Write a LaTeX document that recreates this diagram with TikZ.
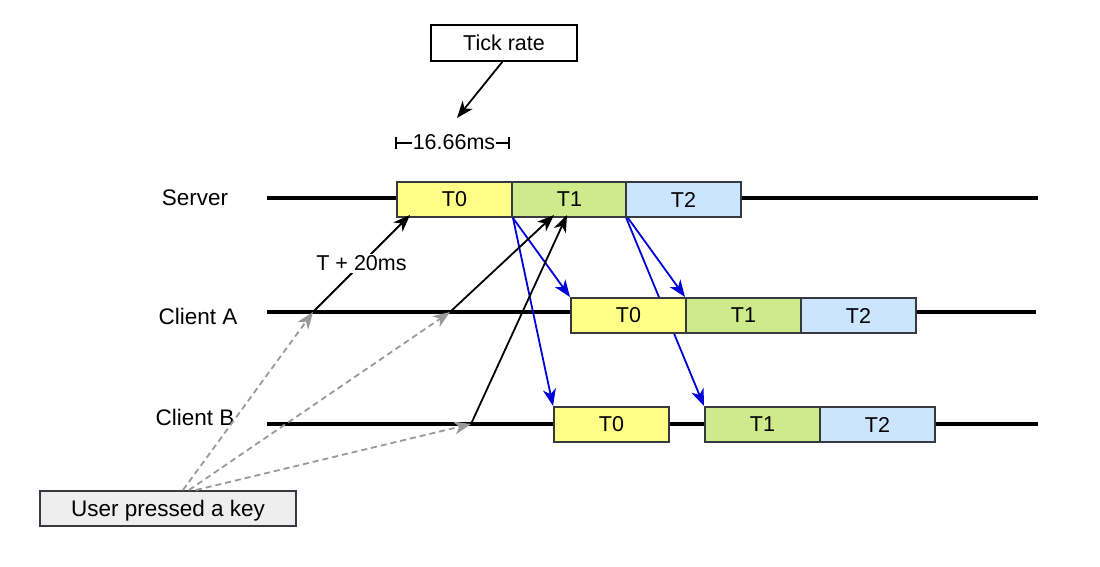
\documentclass[tikz,border=0pt]{standalone}
\usepackage{fontspec}
\setmainfont{Liberation Sans}
\usetikzlibrary{arrows.meta}
\definecolor{ty}{HTML}{FFFF88}
\definecolor{tg}{HTML}{CDEB8B}
\definecolor{tb}{HTML}{CCE5FF}
\definecolor{bd}{HTML}{36393D}
\definecolor{ug}{HTML}{EEEEEE}
\definecolor{dg}{HTML}{999999}
\begin{document}
\begin{tikzpicture}[x=1pt,y=-1pt,
  tbox/.style={draw=bd,line width=2pt,minimum width=115pt,minimum height=35pt,inner sep=0pt,anchor=north west,font=\fontsize{21.5}{24}\selectfont},
  lbl/.style={font=\fontsize{22.5}{26}\selectfont,inner sep=0pt},
  tl/.style={line width=3.5pt},
  barr/.style={line width=1.8pt,-{Stealth[length=17pt,width=13pt,inset=5pt]}},
  blarr/.style={blue!85!black,line width=1.8pt,-{Stealth[length=17pt,width=13pt,inset=5pt]}},
  garr/.style={dg,dash pattern=on 6pt off 4pt,line width=1.8pt,-{Stealth[length=17pt,width=13pt,inset=5pt]}}]
\useasboundingbox (0,0) rectangle (1100,566);
% labels
\node[lbl] (ls) at (195,198) {Server};
\node[lbl] (la) at (198,316) {Client A};
\node[lbl] (lb) at (195,417) {Client B};
% timelines
\coordinate (s0) at (267,198); \coordinate (s1) at (1038,198);
\coordinate (a0) at (267,312); \coordinate (a1) at (1036,312);
\coordinate (b0) at (267,424); \coordinate (b1) at (1038,424);
\draw[tl] (s0) -- (s1);
\draw[tl] (a0) -- (a1);
\draw[tl] (b0) -- (b1);
% background blue arrow (behind Client A box)
\coordinate (sT12) at (625,215);
\coordinate (bT1tl) at (704,406);
\draw[blarr] (sT12) -- (bT1tl);
% server boxes
\node[tbox,fill=ty] (sT0) at (396,181) {T0};
\node[tbox,fill=tg] (sT1) at (511,181) {T1};
\node[tbox,fill=tb] (sT2) at (625,181) {T2};
% client A boxes
\node[tbox,fill=ty] (aT0) at (570,297) {T0};
\node[tbox,fill=tg] (aT1) at (685,297) {T1};
\node[tbox,fill=tb] (aT2) at (800,297) {T2};
% client B boxes
\node[tbox,fill=ty] (bT0) at (553,406) {T0};
\node[tbox,fill=tg] (bT1) at (704,406) {T1};
\node[tbox,fill=tb] (bT2) at (819,406) {T2};
% blue arrows
\draw[blarr] (sT0.south east) -- (aT0.north west);
\draw[blarr] (sT0.south east) -- (bT0.north west);
\draw[blarr] (sT1.south east) -- (aT1.north west);
% tick rate
\node[draw,line width=1.8pt,minimum width=146pt,minimum height=36pt,font=\fontsize{21.5}{24}\selectfont] (tick) at (504,43) {Tick rate};
\coordinate (tickend) at (457,118);
\draw[barr] (503,61) -- (tickend);
% 16.66ms bracket
\coordinate (m0) at (396,143); \coordinate (m1) at (509,143);
\draw[line width=1.4pt] (m0) -- (m1);
\draw[line width=1.4pt] ([yshift=-6pt]m0) -- ([yshift=6pt]m0);
\draw[line width=1.4pt] ([yshift=-6pt]m1) -- ([yshift=6pt]m1);
\node[fill=white,inner sep=1pt,font=\fontsize{21.5}{24}\selectfont] (ms) at (454,142) {16.66ms};
% user key box
\node[draw=bd,fill=ug,line width=2pt,minimum width=256pt,minimum height=35pt,inner sep=0pt,text depth=0pt,lbl] (user) at (168,508) {User pressed a key};
% key press points
\coordinate (pa1) at (313,312);
\coordinate (pa2) at (450,312);
\coordinate (pb1) at (471,424);
\coordinate (u1) at (183,490);
\coordinate (u2) at (189,490);
\coordinate (u3) at (196,490);
\draw[garr] (u1) -- (pa1);
\draw[garr] (u2) -- (pa2);
\draw[garr] (u3) -- (pb1);
% black arrows to server
\coordinate (e1) at (410,215);
\coordinate (e2) at (554,215);
\coordinate (e3) at (567,215);
\draw[barr] (pa1) -- node[midway,fill=white,inner sep=2pt,font=\fontsize{21.5}{24}\selectfont] (lt) {T + 20ms} (e1);
\draw[barr] (pa2) -- (e2);
\draw[barr] (pb1) -- (e3);
\end{tikzpicture}
\end{document}
